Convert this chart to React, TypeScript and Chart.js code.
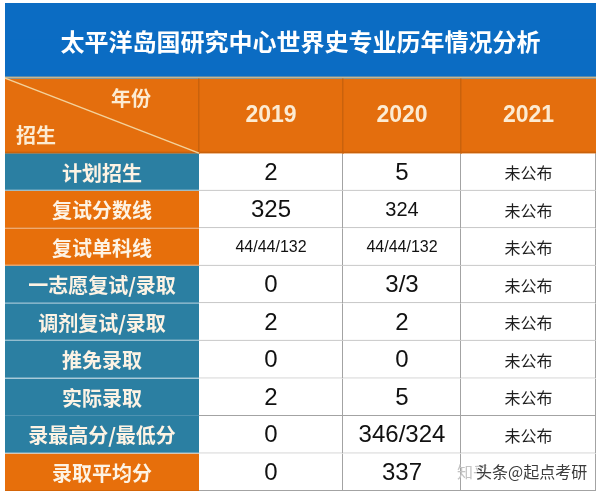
import React, { useEffect, useRef } from 'react';
import { Chart, registerables } from 'chart.js';

Chart.register(...registerables);

// ---------- data ----------
const title = '太平洋岛国研究中心世界史专业历年情况分析';
const cornerTop = '年份';
const cornerBottom = '招生';
const years = ['2019', '2020', '2021'];
const rowLabels = [
  '计划招生',
  '复试分数线',
  '复试单科线',
  '一志愿复试/录取',
  '调剂复试/录取',
  '推免录取',
  '实际录取',
  '录最高分/最低分',
  '录取平均分',
];
const values2019 = ['2', '325', '44/44/132', '0', '2', '0', '2', '0', '0'];
const values2020 = ['5', '324', '44/44/132', '3/3', '2', '0', '5', '346/324', '337'];
const values2021 = ['未公布', '未公布', '未公布', '未公布', '未公布', '未公布', '未公布', '未公布', ''];
const watermarkA = '知乎';
const watermarkB = '头条@起点考研';

// ---------- layout & style ----------
const COL_WIDTHS = [194, 144, 118, 135];
const COL_START = COL_WIDTHS.map((_, i) => COL_WIDTHS.slice(0, i).reduce((a, b) => a + b, 0));
const TOTAL_W = COL_WIDTHS.reduce((a, b) => a + b, 0);
const TITLE_SLOTS = [0, 1];
const HEADER_SLOTS = [2, 3];
const FIRST_ROW_SLOT = 4;
const slotLabels = ['title-a', 'title-b', 'head-a', 'head-b', ...rowLabels];

const BLUE = '#0b6cc3';
const ORANGE = '#e76f0b';
const HEADER_ORANGE = '#e46e0d';
const TEAL = '#2b7fa2';
const LABEL_STYLE = ['teal', 'orange', 'orange', 'teal', 'teal', 'teal', 'teal', 'teal', 'orange'];
const SMALL_VALUE_CELLS = new Set(['2:1']); // column 2020, row 复试分数线
const CJK_FONT = '"Noto Sans CJK SC", "Noto Sans", sans-serif';
const NUM_FONT = '"Liberation Sans", Arial, sans-serif';

const columns = [rowLabels, values2019, values2020, values2021];

function cellRange(c: number): [number, number] {
  return [COL_START[c], COL_START[c] + COL_WIDTHS[c]];
}

const bandInflate = (ctx: any) => (ctx.dataIndex < FIRST_ROW_SLOT ? 0.7 : 0);

function buildDatasets() {
  const titleData = slotLabels.map((_, i) => (TITLE_SLOTS.includes(i) ? [0, TOTAL_W] : null));
  const ds: any[] = [
    {
      label: 'title',
      data: titleData,
      backgroundColor: BLUE,
      borderWidth: 0,
      inflateAmount: bandInflate,
    },
  ];
  for (let c = 0; c < 4; c++) {
    const data = slotLabels.map((_, i) => (i >= 2 ? cellRange(c) : null));
    ds.push({
      label: 'col' + c,
      data,
      inflateAmount: bandInflate,
      backgroundColor: (ctx: any) => {
        const i = ctx.dataIndex;
        if (HEADER_SLOTS.includes(i)) return HEADER_ORANGE;
        if (c === 0) return LABEL_STYLE[i - FIRST_ROW_SLOT] === 'teal' ? TEAL : ORANGE;
        return '#ffffff';
      },
      borderColor: (ctx: any) => {
        const i = ctx.dataIndex;
        if (c === 0) return LABEL_STYLE[i - FIRST_ROW_SLOT] === 'teal' ? '#4f93b2' : '#d56508';
        return '#a3a3a3';
      },
      borderWidth: (ctx: any) => {
        const i = ctx.dataIndex;
        if (i < FIRST_ROW_SLOT) return 0;
        if (c === 0) return { top: 0, left: 0, right: 0, bottom: 1 };
        return { top: 0, left: 0, right: 1, bottom: 1 };
      },
    });
  }
  return ds;
}

const isCJK = (s: string) => /[\u4e00-\u9fff]/.test(s);

const tablePlugin = {
  id: 'tableText',
  afterDatasetsDraw(chart: any) {
    const { ctx } = chart;
    const x = chart.scales.x;
    const y = chart.scales.y;
    const slotH = y.getPixelForValue(1) - y.getPixelForValue(0);
    const slotTop = (i: number) => y.getPixelForValue(i) - slotH / 2;
    const colL = (c: number) => x.getPixelForValue(COL_START[c]);
    const colR = (c: number) => x.getPixelForValue(COL_START[c] + COL_WIDTHS[c]);
    const colC = (c: number) => (colL(c) + colR(c)) / 2;

    ctx.save();

    const hTop = slotTop(2);
    const hBot = slotTop(4);
    const hMid = (hTop + hBot) / 2;

    // title / header rules
    ctx.fillStyle = '#c9b58c';
    ctx.fillRect(colL(0), hTop - 1.5, colR(3) - colL(0), 2);
    ctx.fillStyle = '#c9620c';
    for (let c = 0; c < 3; c++) ctx.fillRect(Math.round(colR(c)) - 1, hTop + 0.5, 1.5, hBot - hTop - 0.5);
    ctx.fillRect(colL(0), hBot - 1.5, colR(3) - colL(0), 1.5);

    ctx.textAlign = 'center';
    ctx.textBaseline = 'middle';

    // title
    ctx.fillStyle = '#ffffff';
    ctx.font = `bold 24px ${CJK_FONT}`;
    ctx.fillText(title, (x.getPixelForValue(0) + x.getPixelForValue(TOTAL_W)) / 2, (slotTop(0) + slotTop(2)) / 2 + 1);

    // header diagonal
    ctx.strokeStyle = '#f3d29c';
    ctx.lineWidth = 1.5;
    ctx.beginPath();
    ctx.moveTo(colL(0), hTop);
    ctx.lineTo(colR(0), hBot);
    ctx.stroke();

    ctx.fillStyle = '#fcebd2';
    ctx.font = `bold 20px ${CJK_FONT}`;
    const w0 = colR(0) - colL(0);
    ctx.fillText(cornerTop, colL(0) + w0 * 0.65, hTop + (hBot - hTop) * 0.27);
    ctx.fillText(cornerBottom, colL(0) + w0 * 0.16, hTop + (hBot - hTop) * 0.77);

    ctx.font = `bold 23px ${NUM_FONT}`;
    years.forEach((yr, k) => ctx.fillText(yr, colC(k + 1), hMid));

    // rows
    rowLabels.forEach((_, r) => {
      const cy = y.getPixelForValue(FIRST_ROW_SLOT + r);
      for (let c = 0; c < 4; c++) {
        const text = columns[c][r];
        if (!text) continue;
        if (c === 0) {
          ctx.fillStyle = '#fdf3e4';
          ctx.font = `bold 20px ${CJK_FONT}`;
        } else if (isCJK(text)) {
          ctx.fillStyle = '#1e1e1e';
          ctx.font = `16px ${CJK_FONT}`;
        } else if (text.length >= 8) {
          ctx.fillStyle = '#111111';
          ctx.font = `16px ${NUM_FONT}`;
        } else if (SMALL_VALUE_CELLS.has(`${c}:${r}`)) {
          ctx.fillStyle = '#111111';
          ctx.font = `20px ${NUM_FONT}`;
        } else {
          ctx.fillStyle = '#111111';
          ctx.font = `24px ${NUM_FONT}`;
        }
        ctx.fillText(text, colC(c), cy + 1);
      }
    });

    // watermark
    const lastY = y.getPixelForValue(FIRST_ROW_SLOT + rowLabels.length - 1);
    ctx.textAlign = 'left';
    ctx.font = `16px ${CJK_FONT}`;
    ctx.fillStyle = '#c4c4c4';
    ctx.fillText(watermarkA, colL(3) - 4, lastY);
    ctx.fillStyle = '#3c3c3c';
    ctx.fillText(watermarkB, colL(3) + 15, lastY);

    ctx.restore();
  },
};

export default function App() {
  const ref = useRef<HTMLCanvasElement | null>(null);

  useEffect(() => {
    document.body.style.margin = '0';
    document.body.style.background = '#ffffff';
    if (!ref.current) return;
    const chart = new Chart(ref.current, {
      type: 'bar',
      data: { labels: slotLabels, datasets: buildDatasets() },
      options: {
        indexAxis: 'y',
        responsive: false,
        animation: false,
        devicePixelRatio: 1,
        events: [],
        layout: { padding: { left: 5, right: 4, top: 3, bottom: 4 } },
        datasets: {
          bar: {
            grouped: false,
            barPercentage: 1,
            categoryPercentage: 1,
            borderSkipped: false,
          } as any,
        },
        scales: {
          x: { type: 'linear', min: 0, max: TOTAL_W, display: false },
          y: { type: 'category', display: false, offset: true },
        },
        plugins: {
          legend: { display: false },
          tooltip: { enabled: false },
          title: { display: false },
        },
      },
      plugins: [tablePlugin],
    });
    return () => chart.destroy();
  }, []);

  return (
    <div style={{ width: 600, height: 495 }}>
      <canvas ref={ref} width={600} height={495} style={{ display: 'block' }} />
    </div>
  );
}
